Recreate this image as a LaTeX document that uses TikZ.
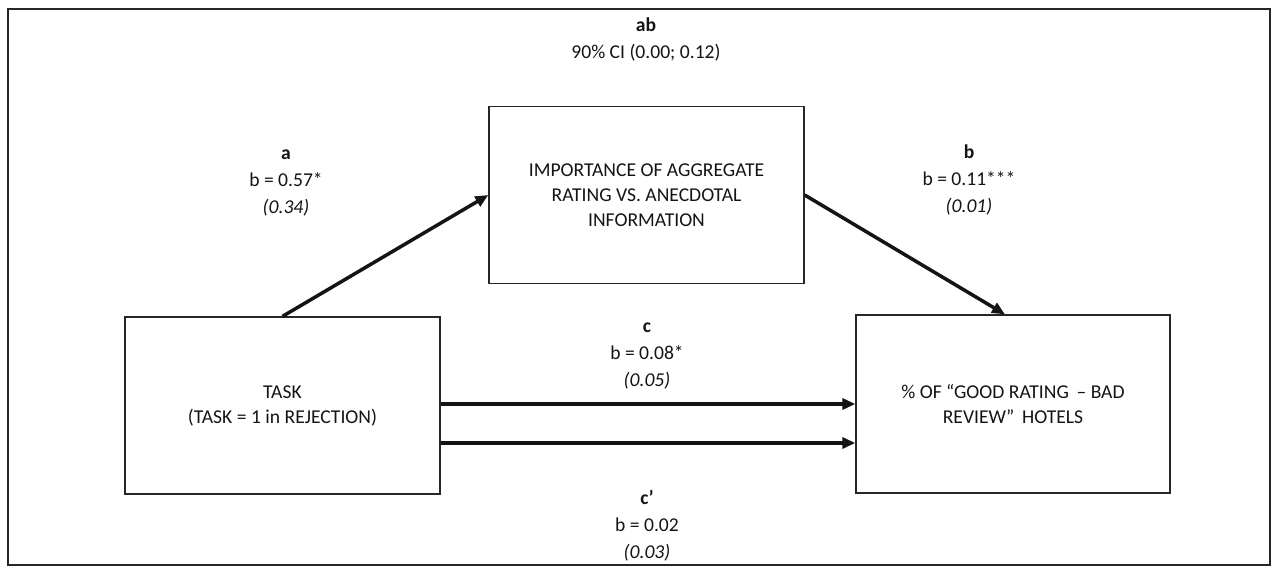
\documentclass[tikz,border=0pt]{standalone}
\usepackage{fontspec}
\setmainfont{Carlito}
\usetikzlibrary{arrows.meta}
\tikzset{
  varbox/.style={draw=black!85, line width=1.3pt, minimum width=315pt, minimum height=177pt, inner sep=0pt, align=center, font=\fontsize{19.6}{25}\selectfont, text=black!92},
  lbl/.style={align=center, font=\fontsize{19.6}{27}\selectfont, text=black!92, inner sep=0pt},
  path/.style={line width=3.5pt, draw=black!92, -{Triangle[length=13pt,width=11pt]}}
}
\begin{document}
\begin{tikzpicture}[x=1pt,y=-1pt]
\useasboundingbox (0,0) rectangle (1273,567);
\draw[line width=2pt, black!85] (8,9) rectangle (1270,565);
\node[varbox] (med) at (646.5,195) {IMPORTANCE OF AGGREGATE\\RATING VS. ANECDOTAL\\INFORMATION};
\node[varbox] (task) at (282.5,405.5) {TASK\\(TASK = 1 in REJECTION)};
\node[varbox, minimum width=314pt, minimum height=178pt] (out) at (1013,404) {\% OF “GOOD RATING \,– BAD\\REVIEW”\, HOTELS};
\draw[path] (task.north) -- (med.west);
\draw[path] (med.east) -- ([xshift=-8pt]out.north);
\draw[path] (task.east |- out.west) -- (out.west);
\draw[path] ([yshift=-39pt]task.east |- out.west) -- ([yshift=-39pt]out.west);
\node[lbl] (lab) at (646,39) {\textbf{ab}\\90\% CI (0.00; 0.12)};
\node[lbl] (la) at (286,183) {\textbf{a}\\b = 0.57*\\\textit{(0.34)}};
\node[lbl] (lb) at (969,180) {\textbf{b}\\b = 0.11***\\\textit{(0.01)}};
\node[lbl] (lc) at (647,356) {\textbf{c}\\b = 0.08*\\\textit{(0.05)}};
\node[lbl] (lcp) at (647,526) {\textbf{c’}\\b = 0.02\\\textit{(0.03)}};
\end{tikzpicture}
\end{document}
